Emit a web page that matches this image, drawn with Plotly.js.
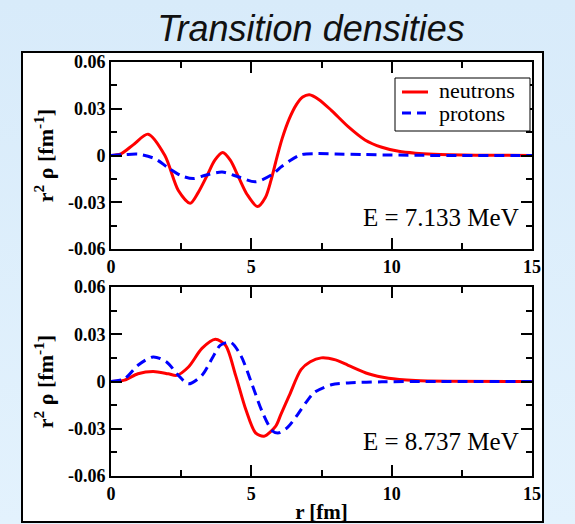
<!DOCTYPE html>
<html>
<head>
<meta charset="utf-8">
<script src="https://cdn.plot.ly/plotly-3.0.1.min.js"></script>
<style>
html, body { margin: 0; padding: 0; }
body { background: linear-gradient(to bottom, #d8ebfa 0%, #e3f2fd 100%); width: 575px; height: 524px; overflow: hidden; }
#chart { width: 575px; height: 524px; }
</style>
</head>
<body>
<div id="chart"></div>
<script>
// ---- Data ----
const chartTitle = "Transition densities";
const seriesNames = ["neutrons", "protons"];
const energyLabels = ["E = 7.133 MeV", "E = 8.737 MeV"];

// Panel 1 (E = 7.133 MeV)
const rNeutrons1 = [0, 0.35, 0.8, 1.32, 1.92, 2.4, 2.82, 3.1, 3.42, 3.7, 3.98, 4.25, 4.55, 4.85, 5.22, 5.5, 5.7, 5.9, 6.1, 6.35, 6.6, 6.83, 7.07, 7.4, 7.85, 8.45, 9.05, 9.65, 10.25, 10.85, 11.5, 12.05, 13, 14, 15];
const vNeutrons1 = [0, 0.001, 0.007, 0.0137, 0.0, -0.0225, -0.0307, -0.024, -0.013, -0.003, 0.0019, -0.003, -0.014, -0.025, -0.0328, -0.027, -0.016, -0.002, 0.011, 0.0235, 0.0325, 0.0375, 0.039, 0.036, 0.029, 0.0185, 0.010, 0.0053, 0.0027, 0.0015, 0.0008, 0.0005, 0.0002, 0.0001, 0];
const rProtons1 = [0, 0.5, 1.0, 1.56, 2.04, 2.52, 2.94, 3.36, 3.96, 4.55, 5.15, 5.76, 6.05, 6.35, 6.77, 7.25, 8, 9, 10, 11, 15];
const vProtons1 = [0, 0.0006, 0.0008, -0.002, -0.0079, -0.0131, -0.0148, -0.0127, -0.0106, -0.0138, -0.0169, -0.012, -0.0075, -0.0036, 0.0005, 0.0012, 0.001, 0.0006, 0.0003, 0.0001, 0];

// Panel 2 (E = 8.737 MeV)
const rNeutrons2 = [0, 0.48, 0.96, 1.5, 2.04, 2.34, 2.76, 3.24, 3.72, 4.08, 4.44, 4.8, 5.15, 5.45, 5.87, 6.05, 6.35, 6.77, 7.1, 7.49, 8.0, 8.45, 9.17, 9.89, 10.85, 12, 15];
const vNeutrons2 = [0, 0.0009, 0.0049, 0.0064, 0.0049, 0.0039, 0.0092, 0.021, 0.0268, 0.023, 0.0039, -0.0176, -0.0326, -0.0347, -0.0283, -0.021, -0.009, 0.0075, 0.0125, 0.015, 0.0137, 0.0103, 0.0049, 0.0021, 0.0007, 0.0002, 0];
const rProtons2 = [0, 0.48, 0.96, 1.5, 1.98, 2.4, 2.76, 3.24, 3.6, 3.9, 4.26, 4.62, 5.04, 5.4, 5.76, 5.99, 6.3, 6.65, 6.95, 7.25, 7.85, 8.45, 9.65, 11, 15];
const vProtons2 = [0, 0.0017, 0.0103, 0.0156, 0.0124, 0.0039, -0.0015, 0.0039, 0.0146, 0.0231, 0.0249, 0.0167, -0.0026, -0.0197, -0.0315, -0.0326, -0.029, -0.021, -0.0133, -0.0069, -0.0021, -0.0009, -0.0002, 0, 0];

// Axes
const xTickVals = [0, 5, 10, 15];
const xTickText = ["0", "5", "10", "15"];
const yTickVals = [-0.06, -0.03, 0, 0.03, 0.06];
const yTickText = ["-0.06", "-0.03", "0", "0.03", "0.06"];
const xTitle = "r [fm]";
const yTitle = "r<sup>2</sup> ρ [fm<sup>-1</sup>]";

// ---- Styles ----
const RED = "#ff0000", BLUE = "#0000ff";
const SERIF = "Liberation Serif, Times New Roman, serif";
const DASH = "10px,6px";
const lineN = { color: RED, width: 3, shape: "spline", smoothing: 0.8 };
const lineP = { color: BLUE, width: 3, dash: DASH, shape: "spline", smoothing: 0.8 };

const traces = [
  { x: rNeutrons1, y: vNeutrons1, name: seriesNames[0], mode: "lines", line: lineN, xaxis: "x", yaxis: "y", showlegend: false },
  { x: rProtons1, y: vProtons1, name: seriesNames[1], mode: "lines", line: lineP, xaxis: "x", yaxis: "y", showlegend: false },
  { x: rNeutrons2, y: vNeutrons2, name: seriesNames[0], mode: "lines", line: lineN, xaxis: "x2", yaxis: "y2", showlegend: false },
  { x: rProtons2, y: vProtons2, name: seriesNames[1], mode: "lines", line: lineP, xaxis: "x2", yaxis: "y2", showlegend: false }
];

const W = 575, H = 524;
const px = v => v / W;
const py = v => (H - v) / H;
const xDom = [px(111), px(532)];
const yDom1 = [py(249), py(62)];
const yDom2 = [py(476), py(287)];

function xAxis(anchor, withTitle) {
  const a = {
    domain: xDom, anchor: anchor, range: [0, 15],
    tickmode: "array", tickvals: xTickVals, ticktext: xTickText,
    ticks: "inside", ticklen: 11, tickwidth: 2, tickcolor: "#000",
    minor: { ticks: "inside", ticklen: 6, tickwidth: 2, tickcolor: "#000", dtick: 2.5, tick0: 0, showgrid: false },
    showline: true, linecolor: "#000", linewidth: 2, mirror: "ticks",
    showgrid: false, zeroline: false,
    tickfont: { family: SERIF, size: 18, weight: "bold", color: "#000" }
  };
  if (withTitle) a.title = { text: xTitle, font: { family: SERIF, size: 21, weight: "bold", color: "#000" }, standoff: 3 };
  return a;
}
function yAxis(anchor, dom) {
  return {
    domain: dom, anchor: anchor, range: [-0.06, 0.06],
    tickmode: "array", tickvals: yTickVals, ticktext: yTickText,
    ticks: "inside", ticklen: 11, tickwidth: 2, tickcolor: "#000",
    minor: { ticks: "inside", ticklen: 6, tickwidth: 2, tickcolor: "#000", dtick: 0.015, tick0: 0, showgrid: false },
    showline: true, linecolor: "#000", linewidth: 2, mirror: "ticks",
    showgrid: false, zeroline: false,
    tickfont: { family: SERIF, size: 18, weight: "bold", color: "#000" },
    title: { text: yTitle, font: { family: SERIF, size: 22, weight: "bold", color: "#000" }, standoff: 8 }
  };
}

// Legend box (layout shapes / annotations to match the tight reference spacing)
const legendShapes = [
  { type: "rect", xref: "paper", yref: "paper", x0: px(395), x1: px(530), y0: py(131), y1: py(78),
    fillcolor: "#ffffff", line: { color: "#000", width: 1 } },
  { type: "line", xref: "paper", yref: "paper", x0: px(402), x1: px(428), y0: py(92), y1: py(92),
    line: { color: RED, width: 3 } },
  { type: "line", xref: "paper", yref: "paper", x0: px(402), x1: px(428), y0: py(113), y1: py(113),
    line: { color: BLUE, width: 3, dash: "9px,6px" } }
];
const legendTexts = seriesNames.map((name, i) => ({
  text: name, xref: "paper", yref: "paper", x: px(437), y: py(i === 0 ? 91 : 113),
  xanchor: "left", yanchor: "middle", showarrow: false,
  font: { family: SERIF, size: 22, color: "#000" }
}));

const layout = {
  width: W, height: H,
  margin: { l: 0, r: 0, t: 0, b: 0 },
  paper_bgcolor: "rgba(0,0,0,0)",
  plot_bgcolor: "#ffffff",
  title: {
    text: chartTitle, x: px(311), xanchor: "center", y: py(28), yanchor: "middle",
    font: { family: "Liberation Sans, Arial, sans-serif", size: 36, style: "italic", color: "#111" }
  },
  xaxis: xAxis("y", false),
  yaxis: yAxis("x", yDom1),
  xaxis2: xAxis("y2", true),
  yaxis2: yAxis("x2", yDom2),
  showlegend: false,
  shapes: [
    { type: "rect", xref: "paper", yref: "paper", layer: "below",
      x0: px(22), x1: px(543), y0: py(522), y1: py(52),
      fillcolor: "#ffffff", line: { color: "#000", width: 2 } }
  ].concat(legendShapes),
  annotations: [
    { text: energyLabels[0], xref: "paper", yref: "paper", x: px(521), y: py(217),
      xanchor: "right", yanchor: "middle", showarrow: false,
      font: { family: SERIF, size: 25, color: "#000" } },
    { text: energyLabels[1], xref: "paper", yref: "paper", x: px(521), y: py(441),
      xanchor: "right", yanchor: "middle", showarrow: false,
      font: { family: SERIF, size: 25, color: "#000" } }
  ].concat(legendTexts)
};

Plotly.newPlot("chart", traces, layout, { staticPlot: true, displayModeBar: false });
</script>
</body>
</html>
